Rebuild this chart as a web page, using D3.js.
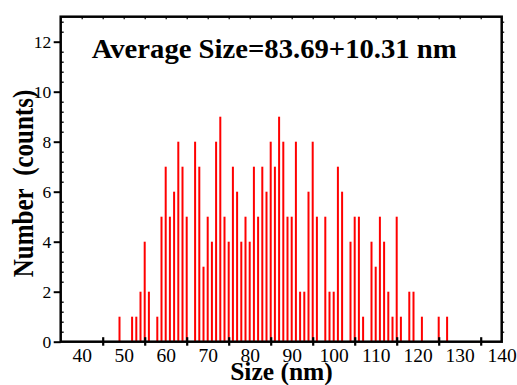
<!DOCTYPE html>
<html><head><meta charset="utf-8">
<script src="https://cdn.jsdelivr.net/npm/d3@7"></script>
<style>html,body{margin:0;padding:0;background:#fff;}svg{display:block;}</style>
</head><body>
<svg id="c" width="517" height="385"></svg>
<script>
const sizes = [49,52,53,54,55,56,58,59,60,61,62,63,64,65,67,68,69,70,71,72,73,74,75,76,77,78,79,80,81,82,83,84,85,86,87,88,89,90,91,92,93,94,95,96,98,99,100,101,102,104,105,106,107,109,110,111,112,113,114,115,116,118,119,121,125,127];
const counts = [1,1,1,2,4,2,1,5,7,5,6,8,7,5,8,7,3,5,4,8,9,5,4,7,6,4,5,4,7,5,7,6,8,7,9,8,5,5,8,2,2,6,8,5,5,2,2,7,6,4,5,5,1,4,3,5,4,2,1,5,1,2,2,1,1,1];
const xLabelTicks = [40,50,60,70,80,90,100,110,120,130,140];
const xMarkTicks = [45,55,65,75,85,95,105,115,125,135];
const yLabelTicks = [0,2,4,6,8,10,12];
const titleText = "Average Size=83.69+10.31 nm";
const xTitle = "Size (nm)";
const yTitle = "Number\u00a0\u00a0(counts)";

const svg = d3.select("#c");
const L = 60.7, R = 501.7, T = 16.7, B = 341.7;
const x = d3.scaleLinear().domain([35,140]).range([L,R]);
const y = d3.scaleLinear().domain([0,13]).range([B,T]);
const serif = '"Liberation Serif", monospace';

// bars
const data = sizes.map((s,i)=>({s, c:counts[i]}));
svg.append("g").selectAll("rect").data(data).join("rect")
  .attr("x", d=>x(d.s)-1).attr("width", 2)
  .attr("y", d=>y(d.c)).attr("height", d=>y(0)-y(d.c))
  .attr("fill", "#ff0000");

// frame
svg.append("rect").attr("x",L).attr("y",T).attr("width",R-L).attr("height",B-T)
  .attr("fill","none").attr("stroke","#000").attr("stroke-width",2.5);

// bottom tick marks (crossing)
const bt = svg.append("g").attr("transform",`translate(0,${B})`)
  .call(d3.axisBottom(x).tickValues(xMarkTicks).tickSize(4).tickFormat(""));
bt.select(".domain").remove();
bt.selectAll(".tick line").attr("y1",-4.5).attr("y2",4).attr("stroke-width",2.2);

// bottom labels
const bl = svg.append("g").attr("transform",`translate(0,${B})`)
  .call(d3.axisBottom(x).tickValues(xLabelTicks).tickSize(0).tickPadding(0));
bl.select(".domain").remove();
bl.attr("font-family", null).attr("font-size", null);
bl.selectAll(".tick text").attr("y",20).attr("dy",0)
  .style("font-family",serif).style("font-size","19.5px").attr("fill","#000");

// left axis major ticks + labels
const la = svg.append("g").attr("transform",`translate(${L},0)`)
  .call(d3.axisLeft(y).tickValues(yLabelTicks).tickSize(7).tickPadding(2.5));
la.select(".domain").remove();
la.attr("font-family", null).attr("font-size", null);
la.selectAll(".tick line").attr("stroke-width",2);
la.selectAll(".tick text").style("font-family",serif).style("font-size","17.5px").attr("fill","#000")
  .attr("dy","0.33em");

// left minor ticks (inward), every 0.4 units excluding majors
const minorY = d3.range(0, 33).map(i=>+(i*0.4).toFixed(1)).filter(v=>v<13 && Math.abs(v/2-Math.round(v/2))>1e-6);
const lm = svg.append("g").attr("transform",`translate(${L},0)`)
  .call(d3.axisRight(y).tickValues(minorY).tickSize(3).tickFormat(""));
lm.select(".domain").remove();
lm.selectAll(".tick line").attr("stroke-width",1.3);

// right minor ticks (outward)
const rm = svg.append("g").attr("transform",`translate(${R},0)`)
  .call(d3.axisRight(y).tickValues(minorY.concat(yLabelTicks.filter(v=>v>0))).tickSize(2.5).tickFormat(""));
rm.select(".domain").remove();
rm.selectAll(".tick line").attr("stroke-width",1.2);

// top minor ticks (inward)
const topTicks = d3.range(40, 140, 5);
const tm = svg.append("g").attr("transform",`translate(0,${T})`)
  .call(d3.axisBottom(x).tickValues(topTicks).tickSize(2.5).tickFormat(""));
tm.select(".domain").remove();
tm.selectAll(".tick line").attr("stroke-width",1.2);

// title
svg.append("text").attr("x",91.7).attr("y",58).style("font-family",serif)
  .style("font-weight","bold").style("font-size","27.5px")
  .attr("textLength",365).attr("lengthAdjust","spacingAndGlyphs")
  .text(titleText);

// x title
svg.append("text").attr("x",281.5).attr("y",379.5).attr("text-anchor","middle")
  .style("font-family",serif).style("font-weight","bold").style("font-size","25.5px")
  .text(xTitle);

// y title
svg.append("text").attr("transform","translate(32.7,183.5) rotate(-90) scale(1,1.2)")
  .attr("text-anchor","middle").style("font-family",serif).style("font-weight","bold")
  .style("font-size","25px").text(yTitle);
</script>
</body></html>
